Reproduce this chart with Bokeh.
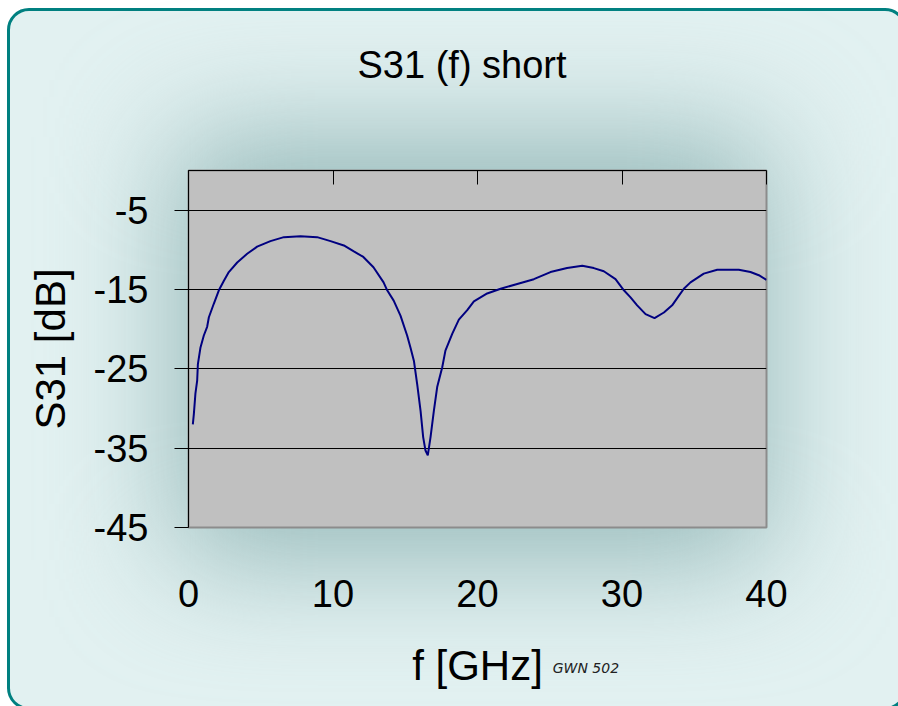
from bokeh.plotting import figure
from bokeh.models import Range1d, LinearAxis, FixedTicker, Title, InlineStyleSheet
from bokeh.embed import file_html
from bokeh.resources import INLINE

# Measured transmission S31 versus frequency, port 3 shorted
freq_ghz = [0.30, 0.37, 0.48, 0.60, 0.65, 0.83, 1.06, 1.29, 1.41, 1.75, 2.10, 2.45,
            2.79, 3.37, 4.06, 4.75, 5.67, 6.60, 7.75, 8.90, 9.83, 10.75, 11.44, 12.10,
            12.80, 13.50, 13.75, 14.20, 14.67, 15.13, 15.36, 15.60, 15.83, 16.06, 16.24,
            16.40, 16.56, 16.75, 16.98, 17.21, 17.56, 17.78, 18.25, 18.71, 19.29, 19.75,
            20.67, 21.60, 22.75, 23.90, 25.05, 26.20, 27.25, 28.05, 28.74, 29.55, 30.13,
            30.59, 31.05, 31.63, 32.25, 32.90, 33.47, 33.93, 34.28, 34.74, 35.66, 36.59,
            38.08, 38.89, 39.47, 40.00]
s31_db = [-32.0, -30.7, -28.1, -26.5, -24.4, -22.3, -20.8, -19.7, -18.5, -16.8, -15.1, -13.9,
          -12.8, -11.6, -10.5, -9.6, -8.9, -8.4, -8.3, -8.4, -8.9, -9.45, -10.2, -10.9,
          -12.2, -14.1, -15.1, -16.4, -18.3, -20.8, -22.3, -24.0, -27.0, -30.3, -33.6,
          -35.3, -35.9, -33.6, -30.3, -27.3, -24.8, -22.7, -20.6, -18.8, -17.6, -16.5,
          -15.5, -14.9, -14.3, -13.7, -12.8, -12.3, -12.0, -12.3, -12.7, -13.7, -15.1,
          -16.0, -17.0, -18.1, -18.6, -17.9, -17.0, -15.8, -14.9, -14.1, -13.0, -12.5,
          -12.5, -12.8, -13.2, -13.8]

x_ticks = [0, 10, 20, 30, 40]
y_ticks = [-45, -35, -25, -15, -5]
y_tick_labels = ["-45", "-35", "-25", "-15", "-5"]

FONT = "Liberation Sans"

# Page decoration: rounded teal frame and soft haze behind the plot area
css = """
:host { position: relative; isolation: isolate; overflow: hidden; background: #ffffff; }
:host::before { content: ""; position: absolute; left: 7px; top: 8px; width: 900px; height: 702px;
  box-sizing: border-box; border: 3px solid #008080; border-radius: 22px; background: #E2F1F1;
  z-index: -1; pointer-events: none; }
:host::after { content: ""; position: absolute; left: 175px; top: 137px; width: 595px; height: 423px;
  background: #96B9B9; filter: blur(60px); z-index: -1; pointer-events: none; }
"""

p = figure(width=898, height=706, output_backend="svg", toolbar_location=None,
           x_range=Range1d(0, 40), y_range=Range1d(-45, 0),
           x_axis_location=None, y_axis_location=None,
           min_border_left=188, min_border_right=132, min_border_top=170, min_border_bottom=179,
           background_fill_color="#C0C0C0", border_fill_alpha=0,
           outline_line_color="#8C8C8C", outline_line_width=2,
           stylesheets=[InlineStyleSheet(css=css)])

# Left value axis
yax = LinearAxis(ticker=FixedTicker(ticks=y_ticks), axis_label="S31 [dB]")
yax.major_label_overrides = dict(zip(y_ticks, y_tick_labels))
yax.axis_line_color = "black"
yax.major_tick_out = 14
yax.major_tick_in = 0
yax.minor_tick_line_color = None
yax.major_label_standoff = 26
yax.major_label_text_font = FONT
yax.major_label_text_font_size = "38px"
yax.major_label_text_color = "black"
yax.axis_label_text_font = FONT
yax.axis_label_text_font_size = "42px"
yax.axis_label_text_font_style = "normal"
yax.axis_label_text_color = "black"
yax.axis_label_standoff = 17
p.add_layout(yax, "left")

# Bottom axis: frequency tick labels only
xax = LinearAxis(ticker=FixedTicker(ticks=x_ticks))
xax.axis_line_color = None
xax.major_tick_line_color = None
xax.minor_tick_line_color = None
xax.major_tick_out = 0
xax.major_label_standoff = 52
xax.major_label_text_font = FONT
xax.major_label_text_font_size = "38px"
xax.major_label_text_color = "black"
p.add_layout(xax, "below")

# Second bottom row: axis title with the small drawing tag beside it
TAG_POS = 27.5
lab = LinearAxis(ticker=FixedTicker(ticks=[TAG_POS]), axis_label="f [GHz]")
lab.major_label_overrides = {TAG_POS: "GWN 502"}
lab.axis_line_color = None
lab.major_tick_line_color = None
lab.minor_tick_line_color = None
lab.major_tick_out = 0
lab.major_label_standoff = 50
lab.major_label_text_font = "DejaVu Sans"
lab.major_label_text_font_size = "14px"
lab.major_label_text_font_style = "italic"
lab.major_label_text_color = "#222222"
lab.axis_label_text_font = FONT
lab.axis_label_text_font_size = "42px"
lab.axis_label_text_font_style = "normal"
lab.axis_label_text_color = "black"
lab.axis_label_standoff = -37
p.add_layout(lab, "below")

# Top axis line with inward ticks, no labels
tax = LinearAxis(ticker=FixedTicker(ticks=x_ticks))
tax.major_label_overrides = {t: "" for t in x_ticks}
tax.axis_line_color = "black"
tax.major_tick_in = 14
tax.major_tick_out = 0
tax.minor_tick_line_color = None
tax.major_label_standoff = 0
p.add_layout(tax, "above")

# Empty spacer row between the plot area and the title
spacer = LinearAxis(ticker=FixedTicker(ticks=[20]))
spacer.major_label_overrides = {20: ""}
spacer.axis_line_color = None
spacer.major_tick_line_color = None
spacer.minor_tick_line_color = None
spacer.major_tick_in = 0
spacer.major_tick_out = 85
spacer.major_label_standoff = 0
p.add_layout(spacer, "above")

title = Title(text="S31 (f) short", align="left", offset=169, vertical_align="bottom",
              standoff=0, text_font=FONT, text_font_size="38px", text_font_style="normal",
              text_color="black")
p.add_layout(title, "above")

p.xgrid.visible = False
p.ygrid.ticker = FixedTicker(ticks=y_ticks)
p.ygrid.grid_line_color = "black"
p.ygrid.grid_line_width = 1

p.line(freq_ghz, s31_db, line_color="#000080", line_width=2)

open("out.html", "w").write(file_html(p, INLINE))
